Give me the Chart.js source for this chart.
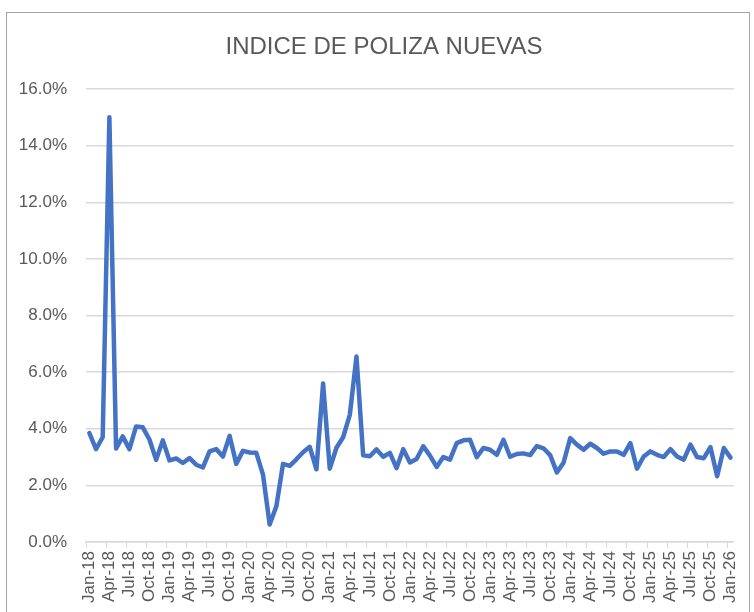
<!DOCTYPE html>
<html>
<head>
<meta charset="utf-8">
<script src="https://cdn.jsdelivr.net/npm/chart.js@4.4.0/dist/chart.umd.min.js"></script>
<style>
    html, body { margin: 0; padding: 0; background: #ffffff; }
    #wrap { position: relative; width: 754px; height: 612px; }
</style>
</head>
<body>
<div id="wrap"><canvas id="polizaChart" width="754" height="612"></canvas></div>
<script>
// Meses y años del eje horizontal (Jan-18 ... Jan-26)
const months = ['Jan', 'Feb', 'Mar', 'Apr', 'May', 'Jun', 'Jul', 'Aug', 'Sep', 'Oct', 'Nov', 'Dec'];
const years = ['18', '19', '20', '21', '22', '23', '24', '25', '26'];

// Índice mensual de pólizas nuevas, en %
const indice = [
    3.85, 3.28, 3.70, 15.00, 3.30, 3.73, 3.28, 4.08, 4.05, 3.62, 2.90, 3.59,
    2.88, 2.95, 2.79, 2.96, 2.73, 2.63, 3.20, 3.28, 3.02, 3.75, 2.76, 3.22,
    3.16, 3.15, 2.38, 0.62, 1.26, 2.76, 2.69, 2.92, 3.17, 3.36, 2.57, 5.60,
    2.59, 3.33, 3.70, 4.49, 6.55, 3.06, 3.03, 3.27, 3.01, 3.15, 2.61, 3.28,
    2.81, 2.93, 3.38, 3.05, 2.65, 3.00, 2.91, 3.49, 3.59, 3.61, 3.00, 3.32,
    3.26, 3.08, 3.61, 3.01, 3.11, 3.13, 3.07, 3.39, 3.31, 3.07, 2.46, 2.80,
    3.67, 3.44, 3.26, 3.47, 3.32, 3.12, 3.20, 3.20, 3.08, 3.49, 2.59, 3.02,
    3.20, 3.08, 3.00, 3.28, 3.02, 2.91, 3.44, 3.00, 2.96, 3.35, 2.32, 3.32,
    2.98
];

const titulo = 'INDICE DE POLIZA NUEVAS';

// Escala vertical
const yMin = 0;
const yMax = 16;
const yStep = 2;

const labels = [];
years.forEach(function(yy) {
    months.forEach(function(m) {
        if (labels.length < indice.length) labels.push(m + '-' + yy);
    });
});

/**
 * Fondo blanco, marco gris y título centrado sobre el área de trazado
 */
const framePlugin = {
    id: 'frame',
    beforeDraw: function(chart) {
        const ctx = chart.ctx;
        ctx.save();
        ctx.fillStyle = '#ffffff';
        ctx.fillRect(0, 0, chart.width, chart.height);
        ctx.strokeStyle = '#a6a6a6';
        ctx.lineWidth = 1;
        ctx.strokeRect(6.5, 12.5, 743, 640);

        ctx.fillStyle = '#595959';
        ctx.font = 'normal 24px "Liberation Sans", Arial, sans-serif';
        ctx.textAlign = 'center';
        ctx.textBaseline = 'middle';
        ctx.fillText(titulo, 384, 47);
        ctx.restore();
    }
};

Chart.defaults.font.family = '"Liberation Sans", Arial, sans-serif';
Chart.defaults.color = '#595959';

const polizaChart = new Chart(document.getElementById('polizaChart').getContext('2d'), {
    type: 'line',
    data: {
        labels: labels,
        datasets: [{
            label: 'Indice',
            data: indice,
            borderColor: '#4472c4',
            borderWidth: 4.5,
            borderJoinStyle: 'round',
            borderCapStyle: 'round',
            pointRadius: 0,
            tension: 0,
            fill: false
        }]
    },
    options: {
        responsive: false,
        animation: false,
        layout: {
            padding: { left: 0, right: 18, top: 89, bottom: 0 }
        },
        plugins: {
            legend: { display: false },
            tooltip: { enabled: false },
            title: { display: false }
        },
        scales: {
            x: {
                type: 'category',
                offset: true,
                grid: {
                    offset: true,
                    drawOnChartArea: false,
                    drawTicks: true,
                    tickLength: 6,
                    color: function(c) { return c.index % 3 === 0 ? '#d9d9d9' : 'rgba(0,0,0,0)'; }
                },
                border: { display: true, color: '#d9d9d9', width: 1.5 },
                ticks: {
                    autoSkip: false,
                    minRotation: 90,
                    maxRotation: 90,
                    padding: 3,
                    font: { size: 17 },
                    color: '#595959',
                    callback: function(value, index) {
                        return index % 3 === 0 ? this.getLabelForValue(value) : '';
                    }
                },
                afterFit: function(scale) { scale.height = 70; }
            },
            y: {
                min: yMin,
                max: yMax,
                grid: { color: '#d9d9d9', lineWidth: 1.5, drawTicks: false },
                border: { display: false },
                ticks: {
                    stepSize: yStep,
                    padding: 19,
                    font: { size: 17 },
                    color: '#595959',
                    callback: function(v) { return v.toFixed(1) + '%'; }
                },
                afterFit: function(scale) { scale.width = 86; }
            }
        }
    },
    plugins: [framePlugin]
});
</script>
</body>
</html>
